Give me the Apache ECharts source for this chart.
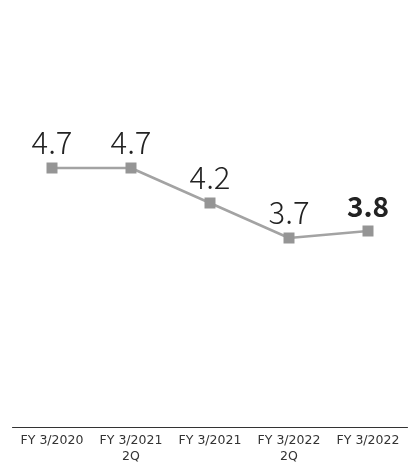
<!DOCTYPE html>
<html>
<head>
<meta charset="utf-8">
<script src="https://cdn.jsdelivr.net/npm/echarts@6/dist/echarts.min.js"></script>
<style>
  html, body { margin: 0; padding: 0; background: #fff; }
  #chart { width: 412px; height: 466px; }
</style>
</head>
<body>
<div id="chart"></div>
<script>
const categories = ["FY 3/2020", "FY 3/2021\n2Q", "FY 3/2021", "FY 3/2022\n2Q", "FY 3/2022"];
const values = [4.7, 4.7, 4.2, 3.7, 3.8];
const boldIndex = 4; // latest value is highlighted

const chart = echarts.init(document.getElementById("chart"));

const option = {
  animation: false,
  grid: { left: 12.5, right: 4.5, top: 7, bottom: 39 },
  xAxis: {
    type: "category",
    data: categories,
    axisLine: { lineStyle: { color: "#333", width: 1 } },
    axisTick: { show: false },
    axisLabel: {
      color: "#333",
      fontFamily: "DejaVu Sans",
      fontSize: 12.5,
      lineHeight: 16,
      margin: 6,
      interval: 0,
    },
  },
  yAxis: {
    type: "value",
    min: 1,
    max: 7,
    show: false,
  },
  series: [
    {
      type: "line",
      data: values.map((v, i) => ({
        value: v,
        label: i === boldIndex ? { fontWeight: "bold", fontSize: 28 } : {},
      })),
      symbol: "rect",
      symbolSize: 11,
      itemStyle: { color: "#959595" },
      lineStyle: { color: "#a3a3a3", width: 2.5 },
      label: {
        show: true,
        position: "top",
        distance: 5,
        color: "#222",
        fontFamily: "Noto Sans CJK JP",
        fontWeight: 300,
        fontSize: 31,
        formatter: (p) => p.value.toFixed(1),
      },
    },
  ],
};

chart.setOption(option);
</script>
</body>
</html>
